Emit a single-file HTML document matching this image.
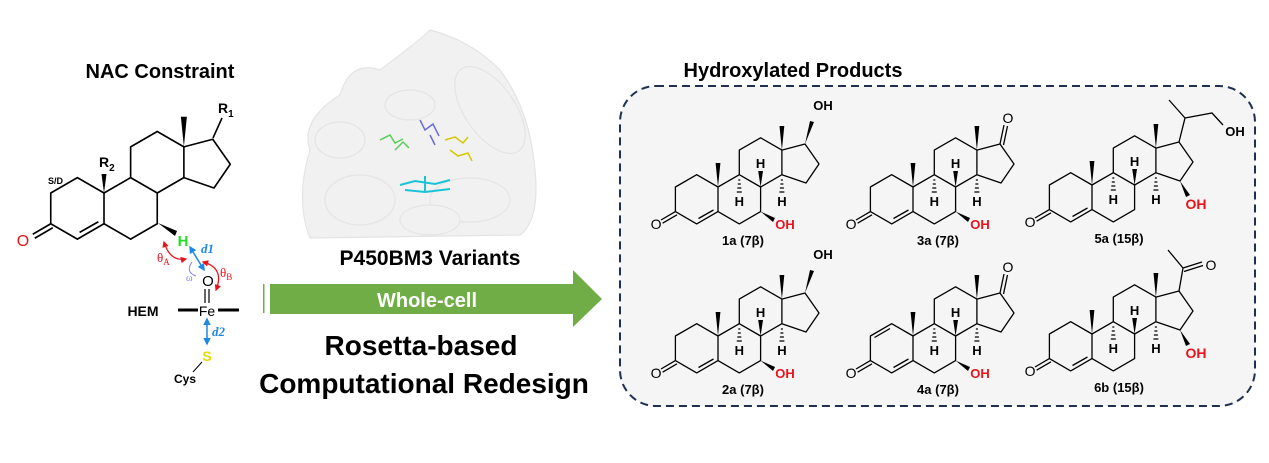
<!DOCTYPE html>
<html><head><meta charset="utf-8"><style>
html,body{margin:0;padding:0;background:#fff;}
svg{display:block;font-family:"Liberation Sans",Arial,sans-serif;}
</style></head><body>
<svg width="1269" height="463" viewBox="0 0 1269 463" xmlns="http://www.w3.org/2000/svg">
<defs>
<g id="sk0" fill="none" stroke="#000" stroke-width="1.3" stroke-linejoin="round">
<path d="M-42.6,0 L-21.3,-12.3 L0,0 L0,24.6 L-21.3,36.9 L-42.6,24.6 Z"/>
<path d="M0,0 L21.3,-12.3 L42.6,0 L42.6,24.6 L21.3,36.9 L0,24.6"/>
<path d="M21.3,-12.3 L21.3,-36.9 L42.6,-49.2 L63.9,-36.9 L63.9,-12.3 L42.6,0"/>
<path d="M63.9,-36.9 L87,-43 L101,-23 L88,-4 L63.9,-12.3"/>
<path d="M-19.5,31.5 L-4.5,23"/>
<path d="M-42.6,24.6 L-57,33 M-41,27.8 L-55.4,36.2"/>
<polygon points="63.9,-36.9 61.5,-61 66.3,-61" fill="#000" stroke="none"/>
</g>
<g id="sk">
<use href="#sk0"/>
<polygon points="0,0 -2.4,-24 2.4,-24" fill="#000"/>
</g>
<g id="hs" stroke="#000" stroke-width="1.2">
<path d="M20.3,-7 h2 M19.8,-3 h3 M19.3,1 h4 M18.8,5 h5"/>
<path d="M62.9,-7 h2 M62.4,-3 h3 M61.9,1 h4 M61.4,5 h5"/>
<polygon points="42.6,0 40.2,-16 45,-16" fill="#000" stroke="none"/>
</g>
<marker id="ar" viewBox="0 0 10 10" refX="8" refY="5" markerWidth="5" markerHeight="5" orient="auto-start-reverse"><path d="M0,0 L10,5 L0,10 Z" fill="#e8141c"/></marker>
<marker id="ab" viewBox="0 0 10 10" refX="8" refY="5" markerWidth="5" markerHeight="5" orient="auto-start-reverse"><path d="M0,0 L10,5 L0,10 Z" fill="#1e88e5"/></marker>
</defs>

<!-- Left: NAC Constraint -->
<text x="160" y="78" font-size="20" font-weight="bold" text-anchor="middle">NAC Constraint</text>
<g transform="translate(104,193) scale(1.25)"><use href="#sk0"/></g>
<polygon points="104,193 101.5,174 106.5,174" fill="#000"/>
<path d="M213,138 L222,118" stroke="#000" stroke-width="1.6"/>
<text x="218" y="113" font-size="14" font-weight="bold">R<tspan font-size="10" dy="4">1</tspan></text>
<text x="99" y="167" font-size="14" font-weight="bold">R<tspan font-size="10" dy="4">2</tspan></text>
<text x="48" y="184" font-size="9" font-weight="bold">S/D</text>
<text x="23" y="246" font-size="16" fill="#e8141c" text-anchor="middle">O</text>
<polygon points="158,223 177,231 175,236" fill="#000"/>
<text x="183" y="246" font-size="15" font-weight="bold" fill="#22dd22" text-anchor="middle">H</text>
<path d="M164,242 Q170,262 186,259" fill="none" stroke="#e8141c" stroke-width="1.3" marker-start="url(#ar)" marker-end="url(#ar)"/>
<text x="157" y="262" font-size="13" fill="#e8141c" font-family="Liberation Serif,serif">θ<tspan font-size="9" dy="3">A</tspan></text>
<path d="M190,247 L204,270" stroke="#1e88e5" stroke-width="1.5" marker-start="url(#ab)" marker-end="url(#ab)"/>
<text x="201" y="253" font-size="13" fill="#1e88e5" font-style="italic" font-weight="bold" font-family="Liberation Serif,serif">d1</text>
<path d="M192,262 Q185,272 196,276" fill="none" stroke="#8080ee" stroke-width="1"/>
<text x="186" y="281" font-size="10" fill="#8080ee" font-family="Liberation Serif,serif">ω</text>
<path d="M203,262 Q225,268 216,290" fill="none" stroke="#e8141c" stroke-width="1.3" marker-start="url(#ar)" marker-end="url(#ar)"/>
<text x="220" y="277" font-size="13" fill="#e8141c" font-family="Liberation Serif,serif">θ<tspan font-size="9" dy="3">B</tspan></text>
<text x="208" y="286" font-size="15" text-anchor="middle">O</text>
<path d="M205,289 V303 M209,289 V303" stroke="#000" stroke-width="1.2"/>
<text x="207" y="316" font-size="14" text-anchor="middle">Fe</text>
<text x="143" y="316" font-size="14" font-weight="bold" text-anchor="middle">HEM</text>
<path d="M178,310 H198 M218,310 H239" stroke="#000" stroke-width="3"/>
<path d="M207,319 V344" stroke="#1e88e5" stroke-width="1.5" marker-start="url(#ab)" marker-end="url(#ab)"/>
<text x="212" y="336" font-size="13" fill="#1e88e5" font-style="italic" font-weight="bold" font-family="Liberation Serif,serif">d2</text>
<text x="207" y="361" font-size="14" font-weight="bold" fill="#e8d800" text-anchor="middle">S</text>
<path d="M202,362 L193,372" stroke="#000" stroke-width="1"/>
<text x="185" y="383" font-size="12" font-weight="bold" text-anchor="middle">Cys</text>

<!-- Protein -->
<g fill="#f1f1f1" stroke="#e4e4e4" stroke-width="1.2">
<path d="M310,150 Q300,120 340,95 Q350,60 380,70 Q420,40 430,30 Q470,40 500,70 Q530,110 535,170 Q540,220 520,235 L310,238 Q295,200 310,150 Z" />
<ellipse cx="360" cy="200" rx="35" ry="25"/>
<ellipse cx="470" cy="200" rx="40" ry="22"/>
<ellipse cx="410" cy="105" rx="25" ry="15"/>
<ellipse cx="490" cy="110" rx="25" ry="50" transform="rotate(-35 490 110)"/>
<ellipse cx="340" cy="140" rx="25" ry="18"/>
<ellipse cx="430" cy="220" rx="30" ry="15"/>
</g>
<g fill="none" stroke-width="1.5">
<path d="M380,140 l10,-5 l5,8 l8,-4 M395,150 l8,-8 l6,6" stroke="#5ccc5c"/>
<path d="M420,120 l5,10 l8,-6 l6,12 M430,135 l5,10" stroke="#6b6bd6"/>
<path d="M445,140 l10,-3 l8,6 l5,-6 M450,150 l8,6 l10,-3 l4,8" stroke="#d6c800"/>
<path d="M400,185 l15,-4 l20,3 l15,-4 M405,190 l20,2 l25,-3 M425,176 v15" stroke="#19c4d6" stroke-width="2"/>
</g>

<!-- Middle texts and arrow -->
<text x="430" y="265" font-size="21" font-weight="bold" text-anchor="middle">P450BM3 Variants</text>
<rect x="263" y="284" width="1.5" height="29" fill="#70ad47"/>
<polygon points="270,284 573,284 573,270 602,299 573,327 573,314 270,314" fill="#70ad47"/>
<text x="427" y="307" font-size="20" font-weight="bold" fill="#fff" text-anchor="middle">Whole-cell</text>
<text x="421" y="355" font-size="28" font-weight="bold" text-anchor="middle">Rosetta-based</text>
<text x="424" y="393" font-size="28" font-weight="bold" text-anchor="middle">Computational Redesign</text>

<!-- Products box -->
<text x="793" y="77" font-size="20" font-weight="bold" text-anchor="middle">Hydroxylated Products</text>
<rect x="620" y="86" width="635" height="320" rx="36" fill="#f5f5f5" stroke="#1f3050" stroke-width="2" stroke-dasharray="8,5"/>

<g font-size="13" font-weight="bold" text-anchor="middle">
<g transform="translate(718,187)">
<use href="#sk"/><use href="#hs"/>
<text x="-62" y="42" font-weight="normal" font-size="14">O</text>
<text x="21.3" y="19">H</text><text x="63.9" y="19">H</text><text x="42.6" y="-19">H</text>
<polygon points="42.6,24.6 57,31 55,35"/>
<text x="67" y="42" fill="#e8141c">OH</text>
<polygon points="87,-43 92,-66 96,-65"/>
<text x="105" y="-77">OH</text>
<text x="25" y="58">1a (7β)</text>
</g>
<g transform="translate(913,187)">
<use href="#sk"/><use href="#hs"/>
<text x="-62" y="42" font-weight="normal" font-size="14">O</text>
<text x="21.3" y="19">H</text><text x="63.9" y="19">H</text><text x="42.6" y="-19">H</text>
<polygon points="42.6,24.6 57,31 55,35"/>
<text x="67" y="42" fill="#e8141c">OH</text>
<path d="M87,-43 L91,-62 M90.5,-42 L94.5,-61" stroke="#000" stroke-width="1.3"/>
<text x="95" y="-64" font-weight="normal" font-size="14">O</text>
<text x="25" y="58">3a (7β)</text>
</g>
<g transform="translate(1092,185)">
<use href="#sk"/><use href="#hs"/>
<text x="-62" y="42" font-weight="normal" font-size="14">O</text>
<text x="21.3" y="19">H</text><text x="63.9" y="19">H</text><text x="42.6" y="-19">H</text>
<polygon points="88,-4 94,12 98,10"/>
<text x="104" y="24" fill="#e8141c" font-size="14">OH</text>
<path d="M87,-43 L93,-67 L77,-85 M93,-67 L120,-72 L131,-60" fill="none" stroke="#000" stroke-width="1.3"/>
<text x="143" y="-49">OH</text>
<text x="27" y="58">5a (15β)</text>
</g>
<g transform="translate(718,336)">
<use href="#sk"/><use href="#hs"/>
<text x="-62" y="42" font-weight="normal" font-size="14">O</text>
<text x="21.3" y="19">H</text><text x="63.9" y="19">H</text><text x="42.6" y="-19">H</text>
<polygon points="42.6,24.6 57,31 55,35"/>
<text x="67" y="42" fill="#e8141c">OH</text>
<polygon points="87,-43 92,-66 96,-65"/>
<text x="105" y="-77">OH</text>
<text x="25" y="58">2a (7β)</text>
</g>
<g transform="translate(913,336)">
<use href="#sk"/><use href="#hs"/>
<path d="M-23,-7.5 L-38.5,1.5" stroke="#000" stroke-width="1.3"/>
<text x="-62" y="42" font-weight="normal" font-size="14">O</text>
<text x="21.3" y="19">H</text><text x="63.9" y="19">H</text><text x="42.6" y="-19">H</text>
<polygon points="42.6,24.6 57,31 55,35"/>
<text x="67" y="42" fill="#e8141c">OH</text>
<path d="M87,-43 L91,-62 M90.5,-42 L94.5,-61" stroke="#000" stroke-width="1.3"/>
<text x="95" y="-64" font-weight="normal" font-size="14">O</text>
<text x="25" y="58">4a (7β)</text>
</g>
<g transform="translate(1092,334)">
<use href="#sk"/><use href="#hs"/>
<text x="-62" y="42" font-weight="normal" font-size="14">O</text>
<text x="21.3" y="19">H</text><text x="63.9" y="19">H</text><text x="42.6" y="-19">H</text>
<polygon points="88,-4 94,12 98,10"/>
<text x="104" y="24" fill="#e8141c" font-size="14">OH</text>
<path d="M87,-43 L91,-66 L76,-84 M91,-66 L110,-72 M92,-62.5 L111,-68.5" fill="none" stroke="#000" stroke-width="1.3"/>
<text x="119" y="-64" font-weight="normal" font-size="14">O</text>
<text x="27" y="58">6b (15β)</text>
</g>
</g>
</svg>
</body></html>
